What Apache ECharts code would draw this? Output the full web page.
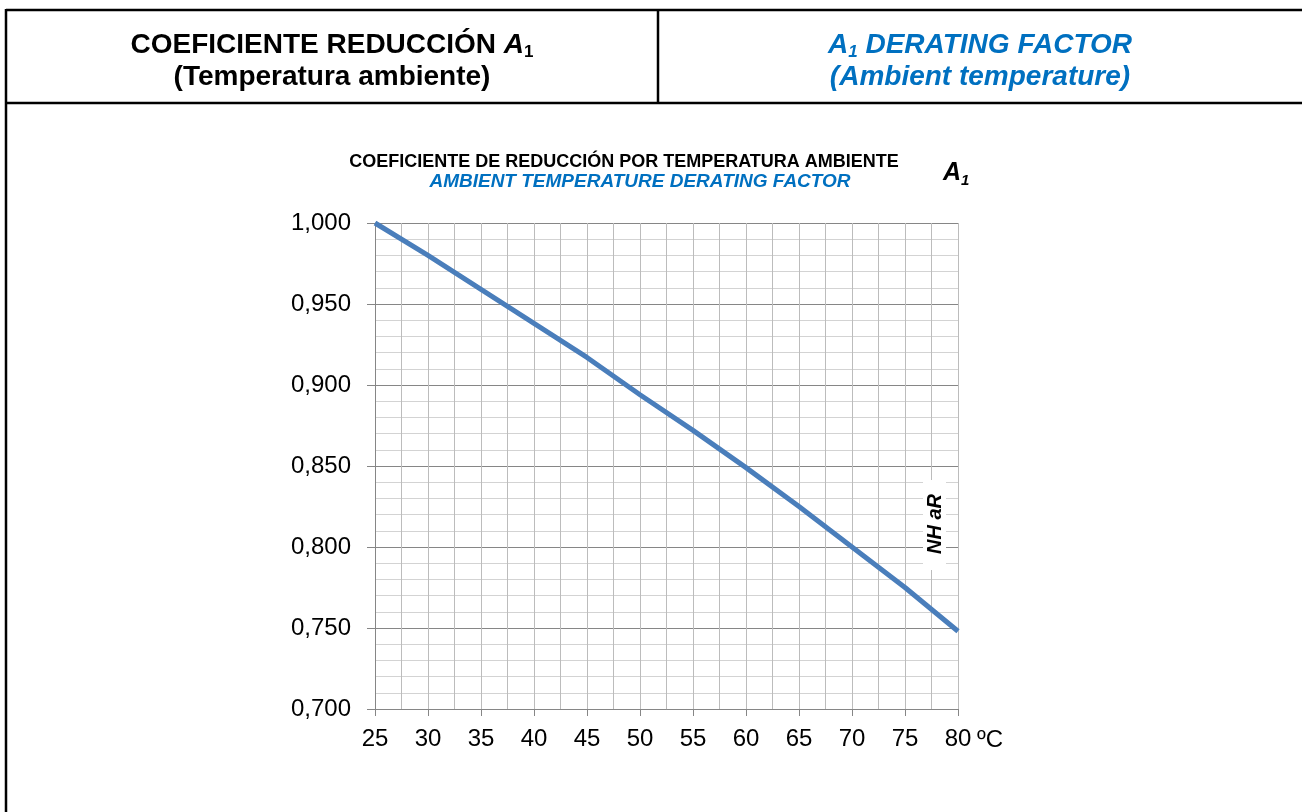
<!DOCTYPE html>
<html>
<head>
<meta charset="utf-8">
<script src="https://cdn.jsdelivr.net/npm/echarts@6/dist/echarts.min.js"></script>
<style>
html,body{margin:0;padding:0;background:#fff;}
#chart{width:1302px;height:812px;}
</style>
</head>
<body>
<div id="chart"></div>
<script>
// Data
const tempC = [25, 30, 35, 40, 45, 50, 55, 60, 65, 70, 75, 80];
const a1Factor = [1.000, 0.980, 0.959, 0.938, 0.917, 0.894, 0.872, 0.849, 0.825, 0.800, 0.775, 0.748];
const headerLeft = ['COEFICIENTE REDUCCIÓN ', '(Temperatura ambiente)'];
const headerRight = [' DERATING FACTOR', '(Ambient temperature)'];
const chartTitle = 'COEFICIENTE DE REDUCCIÓN POR TEMPERATURA AMBIENTE';
const chartSubtitle = 'AMBIENT TEMPERATURE DERATING FACTOR';
const unitLabel = 'ºC';
const sideNote = 'NH aR';

const FONT = '"Liberation Sans", Arial, sans-serif';
const BLUE = '#0070C0';

const chart = echarts.init(document.getElementById('chart'), null, {renderer: 'canvas'});

const seriesData = tempC.map((t, i) => [t, a1Factor[i]]);

chart.setOption({
  backgroundColor: '#ffffff',
  animation: false,
  textStyle: {fontFamily: FONT},
  grid: {left: 375, top: 223, width: 583, height: 486, containLabel: false},
  xAxis: {
    type: 'value', min: 25, max: 80, interval: 5,
    axisLine: {show: true, lineStyle: {color: '#868686', width: 1}},
    axisTick: {show: true, length: 7, lineStyle: {color: '#868686'}},
    minorTick: {show: false, splitNumber: 2},
    axisLabel: {color: '#000', fontSize: 24, fontFamily: FONT, margin: 18},
    splitLine: {show: true, lineStyle: {color: '#bcbcbc', width: 1}},
    minorSplitLine: {show: true, lineStyle: {color: '#bcbcbc', width: 1}}
  },
  yAxis: {
    type: 'value', min: 0.70, max: 1.00, interval: 0.05,
    axisLine: {show: true, lineStyle: {color: '#868686', width: 1}},
    axisTick: {show: true, length: 8, lineStyle: {color: '#868686'}},
    minorTick: {show: false, splitNumber: 5},
    axisLabel: {
      color: '#000', fontSize: 24, fontFamily: FONT, margin: 24,
      formatter: v => v.toFixed(3).replace('.', ',')
    },
    splitLine: {show: true, lineStyle: {color: '#868686', width: 1}},
    minorSplitLine: {show: true, lineStyle: {color: '#d3d3d3', width: 1}}
  },
  series: [{
    type: 'line',
    data: seriesData,
    showSymbol: false,
    symbol: 'none',
    smooth: false,
    lineStyle: {color: '#4A7EBB', width: 5, cap: 'butt'},
    z: 5
  }],
  graphic: [
    // table borders
    {type: 'line', shape: {x1: 6, y1: 10, x2: 1302, y2: 10}, style: {stroke: '#000', lineWidth: 2.5}, z: 50},
    {type: 'line', shape: {x1: 6, y1: 9, x2: 6, y2: 812}, style: {stroke: '#000', lineWidth: 2.5}, z: 50},
    {type: 'line', shape: {x1: 658, y1: 10, x2: 658, y2: 103}, style: {stroke: '#000', lineWidth: 2.5}, z: 50},
    {type: 'line', shape: {x1: 6, y1: 103, x2: 1302, y2: 103}, style: {stroke: '#000', lineWidth: 2.5}, z: 50},
    // header left
    {type: 'text', x: 332, y: 45, z: 50, style: {
      text: '{n|' + headerLeft[0] + '}{a|A}{s|1}', align: 'center', verticalAlign: 'middle',
      rich: {
        n: {fontSize: 28, fontWeight: 'bold', fontFamily: FONT, fill: '#000', lineHeight: 32},
        a: {fontSize: 28, fontWeight: 'bold', fontStyle: 'italic', fontFamily: FONT, fill: '#000', lineHeight: 32},
        s: {fontSize: 17, fontWeight: 'bold', fontFamily: FONT, fill: '#000', lineHeight: 32, verticalAlign: 'bottom'}
      }
    }},
    {type: 'text', x: 332, y: 77, z: 50, style: {
      text: headerLeft[1], align: 'center', verticalAlign: 'middle',
      font: 'bold 28px ' + FONT, fill: '#000'
    }},
    // header right
    {type: 'text', x: 980, y: 45, z: 50, style: {
      text: '{a|A}{s|1}{n|' + headerRight[0] + '}', align: 'center', verticalAlign: 'middle',
      rich: {
        n: {fontSize: 28, fontWeight: 'bold', fontStyle: 'italic', fontFamily: FONT, fill: BLUE, lineHeight: 32},
        a: {fontSize: 28, fontWeight: 'bold', fontStyle: 'italic', fontFamily: FONT, fill: BLUE, lineHeight: 32},
        s: {fontSize: 17, fontWeight: 'bold', fontStyle: 'italic', fontFamily: FONT, fill: BLUE, lineHeight: 32, verticalAlign: 'bottom'}
      }
    }},
    {type: 'text', x: 980, y: 77, z: 50, style: {
      text: headerRight[1], align: 'center', verticalAlign: 'middle',
      font: 'italic bold 28px ' + FONT, fill: BLUE
    }},
    // chart titles
    {type: 'text', x: 624, y: 162, z: 50, style: {
      text: chartTitle, align: 'center', verticalAlign: 'middle',
      font: 'bold 18px ' + FONT, fill: '#000'
    }},
    {type: 'text', x: 640, y: 182, z: 50, style: {
      text: chartSubtitle, align: 'center', verticalAlign: 'middle',
      font: 'italic bold 19px ' + FONT, fill: BLUE
    }},
    {type: 'text', x: 943, y: 173, z: 50, style: {
      text: '{a|A}{s|1}', align: 'left', verticalAlign: 'middle',
      rich: {
        a: {fontSize: 25, fontWeight: 'bold', fontStyle: 'italic', fontFamily: FONT, fill: '#000', lineHeight: 30},
        s: {fontSize: 15, fontWeight: 'bold', fontStyle: 'italic', fontFamily: FONT, fill: '#000', lineHeight: 30, verticalAlign: 'bottom'}
      }
    }},
    // unit after last x label
    {type: 'text', x: 977, y: 740, z: 50, style: {
      text: unitLabel, align: 'left', verticalAlign: 'middle',
      font: '24px ' + FONT, fill: '#000'
    }},
    // rotated side note with white box
    {type: 'rect', shape: {x: 923, y: 480, width: 23, height: 90}, style: {fill: '#fff'}, z: 40},
    {type: 'text', x: 935, y: 524, rotation: Math.PI / 2, z: 50, style: {
      text: sideNote, align: 'center', verticalAlign: 'middle',
      font: 'italic bold 20px ' + FONT, fill: '#000'
    }}
  ]
});
</script>
</body>
</html>
